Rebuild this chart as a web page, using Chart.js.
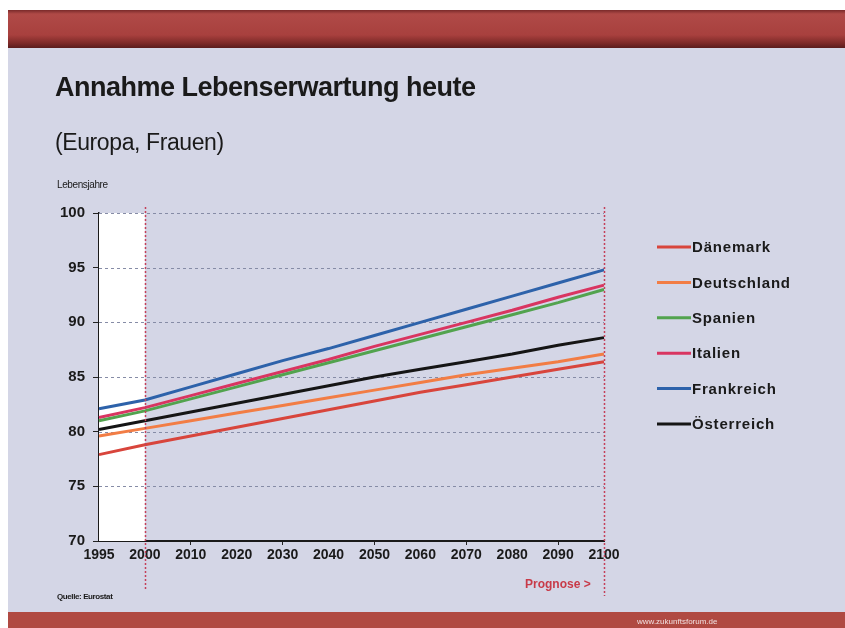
<!DOCTYPE html>
<html><head><meta charset="utf-8">
<script src="https://cdn.jsdelivr.net/npm/chart.js@4/dist/chart.umd.min.js"></script>
<style>
html,body{margin:0;padding:0;background:#fff;}
#wrap{position:relative;width:845px;height:628px;overflow:hidden;background:#fff;}
#slide{position:absolute;left:8px;top:10px;width:837px;height:618px;background:#d4d6e6;}
#topband{position:absolute;left:8px;top:10px;width:837px;height:38px;background:linear-gradient(#7a2a2a 0px,#b04a47 4px,#a8403e 25px,#7e2a28 33px,#5a1c1c 38px);}
#botband{position:absolute;left:8px;top:612px;width:837px;height:16px;background:#b04a42;}
canvas{position:absolute;left:0;top:0;}
.t{position:absolute;font-family:"Liberation Sans",Arial,sans-serif;color:#1a1a1a;white-space:nowrap;}
#title{left:55px;top:72px;font-size:27px;font-weight:bold;letter-spacing:-0.5px;}
#sub{left:55px;top:129px;font-size:23px;letter-spacing:-0.4px;}
#ylab{left:57px;top:179px;font-size:10px;letter-spacing:-0.4px;}
#src{left:57px;top:592px;font-size:8px;font-weight:bold;letter-spacing:-0.4px;}
#prog{left:525px;top:577px;font-size:12px;font-weight:bold;color:#c83a48;}
#web{left:637px;top:617px;font-size:8px;color:#f0e0e0;}
</style></head>
<body>
<div id="wrap">
<div id="slide"></div>
<div id="topband"></div>
<div id="botband"></div>
<canvas id="c" width="845" height="628"></canvas>
<div class="t" id="title">Annahme Lebenserwartung heute</div>
<div class="t" id="sub">(Europa, Frauen)</div>
<div class="t" id="ylab">Lebensjahre</div>
<div class="t" id="src">Quelle: Eurostat</div>
<div class="t" id="prog">Prognose &gt;</div>
<div class="t" id="web">www.zukunftsforum.de</div>
</div>
<script>
const years = ["1995","2000","2010","2020","2030","2040","2050","2060","2070","2080","2090","2100"];
const seriesNames = ["Dänemark","Deutschland","Spanien","Italien","Frankreich","Österreich"];
const daenemark   = [77.9,78.8,79.6,80.4,81.2,82.0,82.8,83.6,84.3,85.0,85.7,86.4];
const deutschland = [79.6,80.3,81.0,81.7,82.4,83.1,83.8,84.5,85.2,85.8,86.4,87.1];
const spanien     = [81.0,81.9,83.0,84.1,85.2,86.3,87.4,88.5,89.6,90.7,91.8,93.0];
const italien     = [81.3,82.2,83.3,84.4,85.5,86.6,87.8,88.9,90.0,91.1,92.3,93.4];
const frankreich  = [82.1,82.9,84.1,85.3,86.5,87.6,88.8,90.0,91.2,92.4,93.6,94.8];
const oesterreich = [80.2,81.0,81.8,82.6,83.4,84.2,85.0,85.7,86.4,87.1,87.9,88.6];
const seriesValues = [daenemark,deutschland,spanien,italien,frankreich,oesterreich];
const seriesColors = ["#d8453c","#f27d45","#52a34e","#d93561","#2d62aa","#151515"];
const yTicks = [70,75,80,85,90,95,100];
const historyEnd = "2000";
const forecastEnd = "2100";

const FONT = '"Liberation Sans", Arial, sans-serif';

const bgPlugin = {
  id:'bg',
  beforeDatasetsDraw(chart){
    const {ctx, chartArea:a, scales:{x,y}} = chart;
    ctx.save();
    const x0 = x.getPixelForValue(0), x1 = x.getPixelForValue(years.indexOf(historyEnd));
    ctx.fillStyle = '#ffffff';
    ctx.fillRect(x0, a.top, x1-x0, a.bottom-a.top);
    ctx.strokeStyle = '#868ca6';
    ctx.lineWidth = 1;
    ctx.setLineDash([3,3]);
    yTicks.slice(1).forEach(v=>{
      const py = Math.round(y.getPixelForValue(v))+0.5;
      ctx.beginPath(); ctx.moveTo(a.left, py); ctx.lineTo(a.right, py); ctx.stroke();
    });
    ctx.restore();
  },
  afterDatasetsDraw(chart){
    const {ctx, chartArea:a, scales:{x,y}} = chart;
    ctx.save();
    ctx.strokeStyle = '#c4405a';
    ctx.lineWidth = 1.5;
    ctx.setLineDash([2,2]);
    [[historyEnd, 590],[forecastEnd, 596]].forEach(([lab,bot])=>{
      const px = Math.round(x.getPixelForValue(years.indexOf(lab)))+0.5;
      ctx.beginPath(); ctx.moveTo(px, a.top-6); ctx.lineTo(px, bot); ctx.stroke();
    });
    ctx.setLineDash([]);
    ctx.font = 'bold 15px ' + FONT;
    ctx.letterSpacing = '0.8px';
    ctx.textBaseline = 'middle';
    chart.data.datasets.forEach((ds,i)=>{
      const ly = 247 + i*35.4;
      ctx.strokeStyle = ds.borderColor;
      ctx.lineWidth = 3;
      ctx.beginPath(); ctx.moveTo(657, ly); ctx.lineTo(691, ly); ctx.stroke();
      ctx.fillStyle = '#1a1a1a';
      ctx.fillText(ds.label, 692, ly+1);
    });
    ctx.restore();
  }
};

new Chart(document.getElementById('c'), {
  type:'line',
  data:{
    labels: years,
    datasets: seriesNames.map((n,i)=>({
      label:n, data:seriesValues[i], borderColor:seriesColors[i], backgroundColor:seriesColors[i],
      borderWidth:3, pointRadius:0, tension:0, fill:false
    }))
  },
  options:{
    responsive:false, animation:false,
    layout:{padding:{left:0,right:241,top:213,bottom:57}},
    plugins:{legend:{display:false}, tooltip:{enabled:false}},
    scales:{
      x:{
        offset:false,
        afterFit(s){ s.height = 30; },
        grid:{display:true, drawOnChartArea:false, tickLength:4,
          color:(c)=> (c.index%2===0 && c.index>0 && c.index<11) ? '#222' : 'rgba(0,0,0,0)'},
        border:{display:true,color:'#1a1a1a',width:2},
        ticks:{color:'#1a1a1a', font:{family:FONT, size:14, weight:'bold'}, padding:2, maxRotation:0, autoSkip:false}
      },
      y:{
        min:70, max:100,
        afterFit(s){ s.width = 99; },
        afterBuildTicks(s){ s.ticks = yTicks.map(v=>({value:v})); },
        grid:{display:true, drawOnChartArea:false, tickLength:6, color:'#222'},
        border:{display:true,color:'#1a1a1a',width:1.5},
        ticks:{color:'#1a1a1a', font:{family:FONT, size:15, weight:'bold'}, padding:8}
      }
    }
  },
  plugins:[bgPlugin]
});
</script>
</body></html>
